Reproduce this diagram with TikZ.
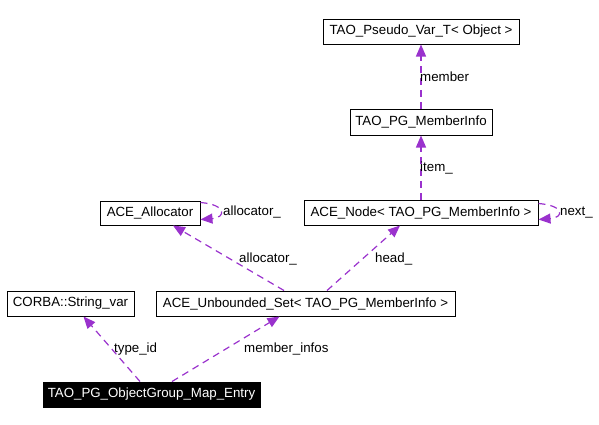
\documentclass[tikz,border=0pt]{standalone}
\usepackage{fontspec}
\setmainfont{Liberation Sans}
\usetikzlibrary{arrows.meta,calc}
\definecolor{edgecol}{HTML}{9A32CD}
\begin{document}
\begin{tikzpicture}[x=1pt,y=-1pt,font=\fontsize{13.3}{15}\selectfont,
  box/.style={draw=black,line width=1pt,inner sep=0pt,minimum height=25pt},
  mainbox/.style={box,fill=black,text=white},
  edge/.style={draw=edgecol,line width=1.2pt,dash pattern=on 7pt off 5pt,
    -{Triangle[length=12pt,width=10pt,fill=edgecol]}},
  lbl/.style={anchor=west,inner sep=0pt}]
\useasboundingbox (0,0) rectangle (599,424);
\node[box,minimum width=196pt] (pseudo) at (421,31.5) {TAO\_Pseudo\_Var\_T< Object >};
\node[box,minimum width=142pt,minimum height=26pt] (memberinfo) at (421,122) {TAO\_PG\_MemberInfo};
\node[box,minimum width=234pt] (acenode) at (421,212.5) {ACE\_Node< TAO\_PG\_MemberInfo >};
\node[box,minimum width=100pt,minimum height=24pt] (alloc) at (150,213) {ACE\_Allocator};
\node[box,minimum width=127pt] (corba) at (70.5,303.5) {CORBA::String\_var};
\node[box,minimum width=299pt] (unbset) at (305.5,303.5) {ACE\_Unbounded\_Set< TAO\_PG\_MemberInfo >};
\node[mainbox,minimum width=217pt] (entry) at (151.5,394.5) {TAO\_PG\_ObjectGroup\_Map\_Entry};

\draw[edge] (memberinfo.north) -- (pseudo.south);
\draw[edge] (acenode.north) -- (memberinfo.south);
\draw[edge] ($(acenode.north east)+(0,4)$) .. controls +(26,2) and +(26,-2) .. ($(acenode.south east)+(0,-6)$);
\draw[edge] ($(alloc.north east)+(0,2)$) .. controls +(26,2) and +(26,-2) .. ($(alloc.south east)+(0,-6)$);
\draw[edge] ($(unbset.north)+(-21.5,0)$) -- ($(alloc.south)+(23,0)$);
\draw[edge] ($(unbset.north)+(21.5,0)$) -- ($(acenode.south)+(-21,0)$);
\draw[edge] ($(entry.north)+(-11.5,0)$) -- ($(corba.south)+(13,0)$);
\draw[edge] ($(entry.north)+(20.5,0)$) -- ($(unbset.south)+(-26,0)$);

\node[lbl] (l1) at (420,77) {member};
\node[lbl] (l2) at (420,168) {item\_};
\node[lbl] (l3) at (560,213) {next\_};
\node[lbl] (l4) at (223,212) {allocator\_};
\node[lbl] (l5) at (239,259) {allocator\_};
\node[lbl] (l6) at (375,259) {head\_};
\node[lbl] (l7) at (114,349) {type\_id};
\node[lbl] (l8) at (244,349) {member\_infos};
\end{tikzpicture}
\end{document}
